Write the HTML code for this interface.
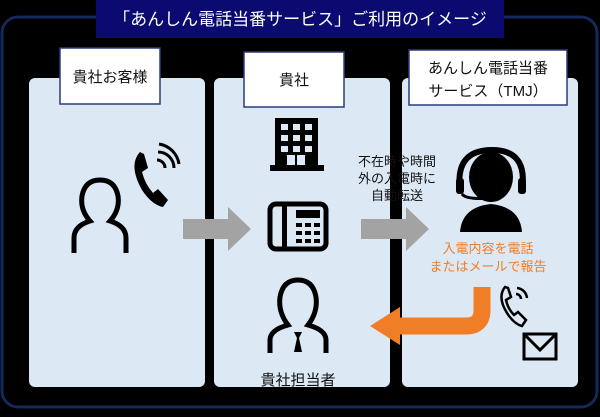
<!DOCTYPE html>
<html><head><meta charset="utf-8"><style>
html,body{margin:0;padding:0;background:#000;}
body{width:600px;height:412px;overflow:hidden;font-family:"Liberation Sans","Noto Sans CJK JP",sans-serif;}
</style></head><body>
<svg width="600" height="412" viewBox="0 0 600 412" xmlns="http://www.w3.org/2000/svg" font-family="Liberation Sans, Noto Sans CJK JP, sans-serif">
<rect width="600" height="412" fill="#000"/>
<rect x="2" y="17" width="595" height="390" rx="16" fill="none" stroke="#15285a" stroke-width="3"/>
<rect x="96" y="0" width="408" height="38" fill="#0a0a70"/>
<text x="300" y="25" font-size="17" fill="#fff" text-anchor="middle">「あんしん電話当番サービス」ご利用のイメージ</text>
<rect x="29" y="78" width="176" height="309" rx="6" fill="#dde8f5"/>
<rect x="214" y="78" width="176" height="309" rx="6" fill="#dde8f5"/>
<rect x="402" y="78" width="176" height="309" rx="6" fill="#dde8f5"/>
<rect x="60" y="48" width="100" height="56" fill="#fff" stroke="#2a3a78" stroke-width="1.5"/>
<text x="110" y="82" font-size="15" text-anchor="middle" fill="#111">貴社お客様</text>
<rect x="244" y="52" width="100" height="55" fill="#fff" stroke="#2a3a78" stroke-width="1.5"/>
<text x="294" y="85" font-size="15" text-anchor="middle" fill="#111">貴社</text>
<rect x="409" y="50" width="158" height="55" fill="#fff" stroke="#2a3a78" stroke-width="1.5"/>
<text x="488" y="73" font-size="15" text-anchor="middle" fill="#111">あんしん電話当番</text>
<text x="488" y="96" font-size="15" text-anchor="middle" fill="#111">サービス（TMJ）</text>
<!-- person -->
<path d="M74 253 L74 238 Q74 226 90 221 Q80 210 82 196 Q85 180 100 180 Q115 180 118 196 Q120 210 110 221 Q126 226 126 238 L126 253" fill="none" stroke="#000" stroke-width="5"/>
<!-- phone -->
<path d="M140 152 Q128 165 142 190 Q152 205 163 207 L168 200 L158 189 L153 193 Q145 184 142 172 L148 168 L144 154 Z" fill="#000"/>
<path d="M157 160 a8 8 0 0 1 8 8 M158 152 a16 16 0 0 1 16 16 M159 144 a24 24 0 0 1 20 20" fill="none" stroke="#000" stroke-width="3"/>
<!-- arrows gray -->
<polygon points="183,219 228,219 228,207 251,229 228,251 228,239 183,239" fill="#a3a3a3"/>
<polygon points="361,219 406,219 406,207 429,229 406,251 406,239 361,239" fill="#a3a3a3"/>
<!-- building -->
<rect x="275" y="118" width="43" height="47" fill="#000"/>
<rect x="270" y="165" width="54" height="6" fill="#000"/>
<g fill="#dde8f5">
<rect x="281" y="124" width="7" height="6"/><rect x="293" y="124" width="7" height="6"/><rect x="305" y="124" width="7" height="6"/>
<rect x="281" y="135" width="7" height="6"/><rect x="293" y="135" width="7" height="6"/><rect x="305" y="135" width="7" height="6"/>
<rect x="281" y="146" width="7" height="6"/><rect x="293" y="146" width="7" height="6"/><rect x="305" y="146" width="7" height="6"/>
<rect x="287" y="155" width="18" height="10"/>
</g>
<rect x="295" y="155" width="2" height="10" fill="#000"/>
<!-- desk phone -->
<rect x="270" y="204" width="56" height="45" rx="6" fill="none" stroke="#000" stroke-width="5"/>
<rect x="282" y="204" width="5" height="45" fill="#000"/>
<rect x="296" y="210" width="24" height="8" fill="#000"/>
<g fill="#000"><rect x="296" y="223" width="6" height="4"/><rect x="305" y="223" width="6" height="4"/><rect x="314" y="223" width="6" height="4"/>
<rect x="296" y="231" width="6" height="4"/><rect x="305" y="231" width="6" height="4"/><rect x="314" y="231" width="6" height="4"/>
<rect x="296" y="239" width="6" height="4"/><rect x="305" y="239" width="6" height="4"/><rect x="314" y="239" width="6" height="4"/></g>
<!-- staff person -->
<path d="M270 353 L270 340 Q270 330 288 325 Q278 312 280 297 Q283 280 298 280 Q313 280 316 297 Q318 312 308 325 Q326 330 326 340 L326 353" fill="none" stroke="#000" stroke-width="5"/>
<polygon points="294,332 302,332 299,338 302,352 294,352 297,338" fill="#000"/>
<text x="298" y="385" font-size="15" text-anchor="middle" fill="#111">貴社担当者</text>
<!-- transfer text -->
<text x="397" y="166" font-size="13" text-anchor="middle" fill="#111">不在時や時間</text>
<text x="397" y="183" font-size="13" text-anchor="middle" fill="#111">外の入電時に</text>
<text x="397" y="200" font-size="13" text-anchor="middle" fill="#111">自動転送</text>
<!-- operator -->
<path d="M460 190 Q455 150 492 150 Q528 150 522 190" fill="none" stroke="#000" stroke-width="6"/>
<ellipse cx="491" cy="177" rx="22" ry="25" fill="#000"/>
<path d="M460 232 Q462 207 491 204 Q520 207 522 232 Z" fill="#000"/>
<rect x="456" y="178" width="8" height="16" rx="3" fill="#000"/>
<rect x="518" y="178" width="8" height="16" rx="3" fill="#000"/>
<path d="M462 194 Q466 200 492 198" fill="none" stroke="#000" stroke-width="3"/>
<text x="488" y="253" font-size="13" fill="#f07e26" text-anchor="middle">入電内容を電話</text>
<text x="488" y="271" font-size="13" fill="#f07e26" text-anchor="middle">またはメールで報告</text>
<!-- orange arrow -->
<path d="M482 287 L482 310 Q482 326 466 326 L395 326" fill="none" stroke="#f07e26" stroke-width="17"/>
<polygon points="400,307 400,345 370,326" fill="#f07e26"/>
<!-- small phone -->
<path d="M505 287 Q497 297 507 313 Q514 324 522 326 L526 320 L518 312 L514 315 Q508 309 506 300 L511 297 L508 288 Z" fill="none" stroke="#000" stroke-width="2.5"/>
<path d="M516 294 a5 5 0 0 1 5 5 M517 288 a11 11 0 0 1 10 10" fill="none" stroke="#000" stroke-width="2.5"/>
<!-- mail -->
<rect x="524" y="334" width="32" height="25" fill="none" stroke="#000" stroke-width="3"/>
<path d="M524 334 L540 350 L556 334" fill="none" stroke="#000" stroke-width="3"/>
</svg>
</body></html>
